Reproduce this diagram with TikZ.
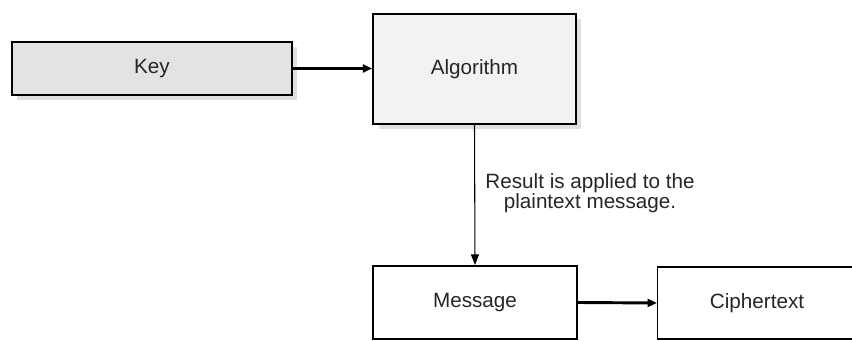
\documentclass[tikz,border=0pt]{standalone}
\usepackage{fontspec}
\setmainfont{Liberation Sans}
\usetikzlibrary{arrows.meta,shadows}
\tikzset{
    box/.style={draw, line width=1.6pt, inner sep=0pt, font=\fontsize{15.5}{16}\selectfont, text=black!85},
    shade box/.style={box, drop shadow={shadow xshift=4pt, shadow yshift=-4pt, fill=black!12, opacity=1}},
    thick arrow/.style={line width=2.2pt, -{Triangle[length=7pt,width=6pt]}},
    thin arrow/.style={line width=0.8pt, -{Triangle[length=8pt,width=6pt]}}
}
\begin{document}
\begin{tikzpicture}[x=0.75pt,y=0.75pt,yscale=-1,xscale=1]
        \useasboundingbox (0,0) rectangle (852,341);
        \node [shade box, fill=black!11, minimum width=210pt, minimum height=40pt] (key) at (152,68.5) {Key};
        \node [shade box, fill=black!5, minimum width=152pt, minimum height=82.5pt] (algorithm) at (474.5,69) {Algorithm};
        \node [box, line width=1.2pt, fill=white, minimum width=153pt, minimum height=55pt] (message) at (475,302.5) {Message};
        \node [box, line width=1.2pt, fill=white, minimum width=149pt, minimum height=54pt] (ciphertext) at (757,303) {Ciphertext};
        \node [align=center, font=\fontsize{15.5}{15}\selectfont, text=black!85] (note) at (590,193) {Result is applied to the\\plaintext message.};
        \draw [thick arrow] (key.east) -- (key.east -| algorithm.west);
        \draw [thin arrow] (algorithm.south) -- (message.north);
        \draw [thick arrow] (message.east) -- (ciphertext.west);
    \end{tikzpicture}
\end{document}
